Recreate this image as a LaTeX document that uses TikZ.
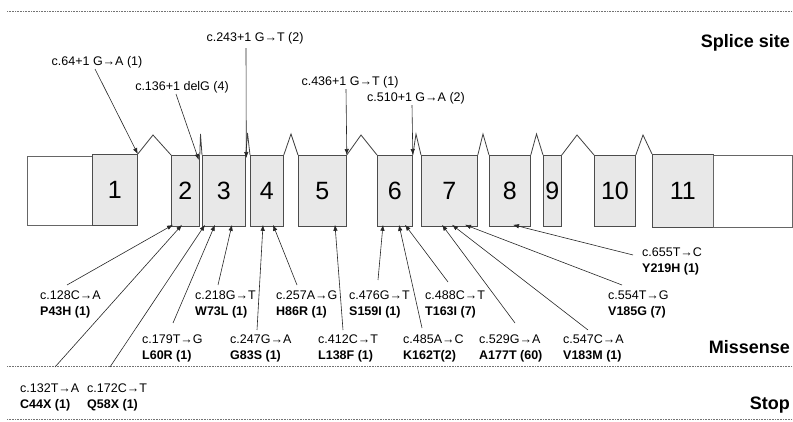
\documentclass[tikz,border=0pt]{standalone}
\usepackage{fontspec}
\setmainfont{Liberation Sans}
\usetikzlibrary{arrows.meta,calc}
\begin{document}
\begin{tikzpicture}[x=1pt,y=-1pt,
 exonbox/.style={draw=black!70, fill=black!9, line width=0.8pt, inner sep=0pt, anchor=north west, minimum height=71pt, font=\fontsize{25}{25}\selectfont},
 utrbox/.style={draw=black!60, fill=white, line width=0.8pt, inner sep=0pt, anchor=north west},
 intron/.style={draw=black!75, line width=0.8pt},
 mut/.style={font=\fontsize{12.5}{14}\selectfont, inner sep=0pt},
 lab/.style={font=\fontsize{12.5}{15.5}\selectfont, inner sep=0pt, align=left, anchor=west},
 conn/.style={-{Latex[length=6pt,width=4.5pt]}, line width=0.6pt, black!85},
 region/.style={font=\bfseries\fontsize{18}{18}\selectfont, anchor=east, inner sep=0pt},
 sep/.style={black!55, line width=0.7pt, dash pattern=on 0.8pt off 0.8pt}]
\useasboundingbox (0,0) rectangle (793,422);

% separators
\draw[sep] (7,11) -- (793,11);
\draw[sep] (7,366) -- (793,366);
\draw[sep] (7,419) -- (793,419);

% region labels
\node[region] (rsplice) at (790,43) {Splice site};
\node[region] (rmis) at (790,347) {Missense};
\node[region] (rstop) at (790,405) {Stop};

% gene structure
\node[utrbox, minimum width=65pt, minimum height=69pt] (u5) at (27,156) {};
\node[exonbox, minimum width=45pt] (e1) at (92,154) {1};
\node[exonbox, minimum width=28pt] (e2) at (171,155) {2};
\node[exonbox, minimum width=43pt] (e3) at (202,155) {3};
\node[exonbox, minimum width=33pt] (e4) at (250,155) {4};
\node[exonbox, minimum width=48pt] (e5) at (298,155) {5};
\node[exonbox, minimum width=35pt] (e6) at (377,155) {6};
\node[exonbox, minimum width=56pt] (e7) at (421,155) {7};
\node[exonbox, minimum width=41pt] (e8) at (489,155) {8};
\node[exonbox, minimum width=18pt] (e9) at (543,155) {9};
\node[exonbox, minimum width=41pt] (e10) at (594,155) {10};
\node[exonbox, minimum width=61pt, minimum height=73pt] (e11) at (652,154) {11};
\node[utrbox, minimum width=79pt, minimum height=72pt] (u3) at (713,155) {};

% introns
\coordinate (i1) at (153,135);
\coordinate (i2) at (200.5,134);
\coordinate (i3) at (247.5,133);
\coordinate (i4) at (291,134);
\coordinate (i5) at (361,135);
\coordinate (i6) at (416,134);
\coordinate (i7) at (483,134);
\coordinate (i8) at (536.5,134);
\coordinate (i9) at (577,135);
\coordinate (i10) at (643,135);
\draw[intron] (e1.north east) -- (i1) -- (e2.north west);
\draw[intron] (e2.north east) -- (i2) -- (e3.north west);
\draw[intron] (e3.north east) -- (i3) -- (e4.north west);
\draw[intron] (e4.north east) -- (i4) -- (e5.north west);
\draw[intron] (e5.north east) -- (i5) -- (e6.north west);
\draw[intron] (e6.north east) -- (i6) -- (e7.north west);
\draw[intron] (e7.north east) -- (i7) -- (e8.north west);
\draw[intron] (e8.north east) -- (i8) -- (e9.north west);
\draw[intron] (e9.north east) -- (i9) -- (e10.north west);
\draw[intron] (e10.north east) -- (i10) -- (e11.north west);

% splice site mutations
\node[mut] (s1) at (97,62) {c.64+1 G→A (1)};
\node[mut] (s2) at (182,87) {c.136+1 delG (4)};
\node[mut] (s3) at (255,38) {c.243+1 G→T (2)};
\node[mut] (s4) at (350,82) {c.436+1 G→T (1)};
\node[mut] (s5) at (416,98) {c.510+1 G→A (2)};
\draw[conn] ([xshift=-2pt,yshift=-1pt]s1.south) -- (e1.north east);
\draw[conn] ([xshift=-6pt,yshift=-1pt]s2.south) -- ([xshift=-1pt,yshift=-5pt]e2.north east);
\draw[conn] ([xshift=-9pt,yshift=-4pt]s3.south) -- ([xshift=0.5pt,yshift=-3pt]e3.north east);
\draw[conn] ([xshift=-4pt,yshift=-1pt]s4.south) -- (e5.north east);
\draw[conn] ([xshift=-4pt,yshift=-1pt]s5.south) -- (e6.north east);

% missense / stop labels
\node[lab] (m1) at (40,304.5) {c.128C→A\\\textbf{P43H (1)}};
\node[lab] (m2) at (20,397.5) {c.132T→A\\\textbf{C44X (1)}};
\node[lab] (m3) at (87,397.5) {c.172C→T\\\textbf{Q58X (1)}};
\node[lab] (m4) at (142,348.5) {c.179T→G\\\textbf{L60R (1)}};
\node[lab] (m5) at (195,304.5) {c.218G→T\\\textbf{W73L (1)}};
\node[lab] (m6) at (230,348.5) {c.247G→A\\\textbf{G83S (1)}};
\node[lab] (m7) at (276,304.5) {c.257A→G\\\textbf{H86R (1)}};
\node[lab] (m8) at (318,348.5) {c.412C→T\\\textbf{L138F (1)}};
\node[lab] (m9) at (349,304.5) {c.476G→T\\\textbf{S159I (1)}};
\node[lab] (m10) at (403,348.5) {c.485A→C\\\textbf{K162T(2)}};
\node[lab] (m11) at (425,304.5) {c.488C→T\\\textbf{T163I (7)}};
\node[lab] (m12) at (479,348.5) {c.529G→A\\\textbf{A177T (60)}};
\node[lab] (m13) at (563,348.5) {c.547C→A\\\textbf{V183M (1)}};
\node[lab] (m14) at (608,304.5) {c.554T→G\\\textbf{V185G (7)}};
\node[lab] (m15) at (642,261.5) {c.655T→C\\\textbf{Y219H (1)}};

\draw[conn] ($(m1.west)+(27,-19.5)$) -- ([xshift=2pt,yshift=2pt]e2.south west);
\draw[conn] ($(m2.west)+(35,-30.5)$) -- ([xshift=11pt,yshift=2pt]e2.south west);
\draw[conn] ($(m3.west)+(23,-30.5)$) -- ([xshift=3pt,yshift=2pt]e3.south west);
\draw[conn] ($(m4.west)+(31,-25.5)$) -- ([xshift=13pt,yshift=2pt]e3.south west);
\draw[conn] ($(m5.west)+(23,-19.5)$) -- ([xshift=30pt,yshift=2pt]e3.south west);
\draw[conn] ($(m6.west)+(27,-18.5)$) -- ([xshift=13pt,yshift=2pt]e4.south west);
\draw[conn] ($(m7.west)+(21,-19.5)$) -- ([xshift=23pt,yshift=2pt]e4.south west);
\draw[conn] ($(m8.west)+(25,-18.5)$) -- ([xshift=37pt,yshift=2pt]e5.south west);
\draw[conn] ($(m9.west)+(29,-24.5)$) -- ([xshift=6pt,yshift=2pt]e6.south west);
\draw[conn] ($(m10.west)+(19,-20.5)$) -- ([xshift=22pt,yshift=2pt]e6.south west);
\draw[conn] ($(m11.west)+(23,-22.5)$) -- ([xshift=28pt,yshift=2pt]e6.south west);
\draw[conn] ($(m12.west)+(36,-25.5)$) -- ([xshift=21pt,yshift=2pt]e7.south west);
\draw[conn] ($(m13.west)+(25,-18.5)$) -- ([xshift=31pt,yshift=2pt]e7.south west);
\draw[conn] ($(m14.west)+(14,-19.5)$) -- ([xshift=44pt,yshift=2pt]e7.south west);
\draw[conn] ($(m15.west)+(-9,-6.5)$) -- ([xshift=24pt,yshift=2pt]e8.south west);
\end{tikzpicture}
\end{document}
